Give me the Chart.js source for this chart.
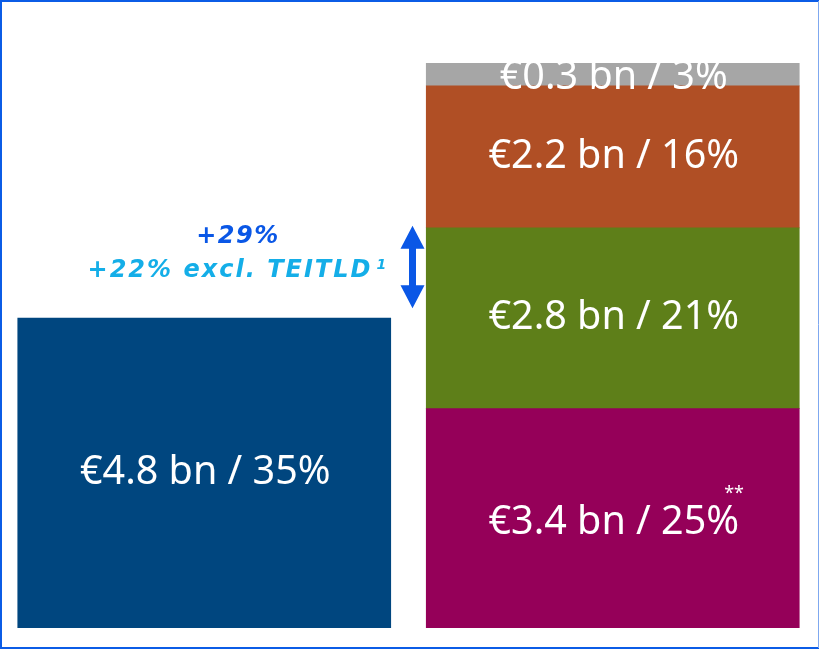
<!DOCTYPE html>
<html>
<head>
<meta charset="utf-8">
<script src="https://cdn.jsdelivr.net/npm/chart.js@4"></script>
<style>
html,body{margin:0;padding:0;background:#fff;}
#wrap{position:relative;width:820px;height:649px;}
canvas{display:block;}
</style>
</head>
<body>
<div id="wrap"><canvas id="c" width="820" height="649"></canvas></div>
<script>
const categories = ["Before", "After"];
const seriesNames = ["Base", "Segment A", "Segment B", "Segment C", "Segment D"];
const baseValues = [4.8, null];
const segA = [null, 3.4];
const segB = [null, 2.8];
const segC = [null, 2.2];
const segD = [null, 0.35];
const barLabels = [
  ["€4.8 bn / 35%", null],
  [null, "€3.4 bn / 25%"],
  [null, "€2.8 bn / 21%"],
  [null, "€2.2 bn / 16%"],
  [null, "€0.3 bn / 3%"]
];
const growthMain = "+29%";
const growthSub = "+22% excl. TEITLD";
const growthNote = "1";
const colors = ["#00467f", "#950059", "#5e7f19", "#b04f25", "#a6a6a6"];

const labelPlugin = {
  id: 'labels',
  afterDatasetsDraw(chart) {
    const ctx = chart.ctx;
    ctx.save();
    ctx.fillStyle = '#ffffff';
    ctx.textAlign = 'center';
    ctx.textBaseline = 'middle';
    ctx.font = '39.5px "Noto Sans", "Open Sans", sans-serif';
    chart.data.datasets.forEach((ds, di) => {
      const meta = chart.getDatasetMeta(di);
      meta.data.forEach((el, i) => {
        const txt = barLabels[di][i];
        if (!txt) return;
        const p = el.getProps(['x', 'y', 'base'], true);
        let cy = (p.y + p.base) / 2;
        if (di === 4) cy += 3;
        if (di === 1) cy += 4;
        ctx.fillText(txt, p.x + 1, cy);
        if (di === 1) {
          const w = ctx.measureText(txt).width;
          ctx.save();
          ctx.font = '18px "Noto Sans", sans-serif';
          ctx.fillText("**", p.x + w / 2 - 4, cy - 28);
          ctx.restore();
        }
      });
    });
    ctx.restore();
  },
  afterDraw(chart) {
    const ctx = chart.ctx;
    const y = chart.scales.y;
    ctx.save();
    // arrow
    const ax = (chart.getDatasetMeta(0).data[0].x + chart.getDatasetMeta(1).data[1].x) / 2 + 4;
    const yBot = y.getPixelForValue(4.8) - 10;
    const yTop = y.getPixelForValue(6.2) - 2;
    ctx.fillStyle = '#0a57e6';
    const hw = 12, hh = 23, sw = 3.5;
    ctx.beginPath();
    ctx.moveTo(ax, yTop);
    ctx.lineTo(ax + hw, yTop + hh);
    ctx.lineTo(ax + sw, yTop + hh);
    ctx.lineTo(ax + sw, yBot - hh);
    ctx.lineTo(ax + hw, yBot - hh);
    ctx.lineTo(ax, yBot);
    ctx.lineTo(ax - hw, yBot - hh);
    ctx.lineTo(ax - sw, yBot - hh);
    ctx.lineTo(ax - sw, yTop + hh);
    ctx.lineTo(ax - hw, yTop + hh);
    ctx.closePath();
    ctx.fill();
    // texts
    const tx = 238;
    const mid = (yTop + yBot) / 2;
    ctx.textAlign = 'center';
    ctx.textBaseline = 'middle';
    ctx.letterSpacing = '1.5px';
    ctx.font = 'italic 700 24px "DejaVu Sans", sans-serif';
    ctx.fillStyle = '#0a57e6';
    ctx.fillText(growthMain, tx, mid - 30);
    ctx.letterSpacing = '2px';
    ctx.font = 'italic 700 24px "DejaVu Sans", sans-serif';
    ctx.fillStyle = '#14aee8';
    const w = ctx.measureText(growthSub).width;
    const sx = 230;
    ctx.fillText(growthSub, sx, mid + 4);
    ctx.letterSpacing = '0px';
    ctx.font = 'italic 600 14px "DejaVu Sans", sans-serif';
    ctx.textAlign = 'left';
    ctx.fillText(growthNote, sx + w / 2 + 4, mid - 2);
    // frame
    ctx.strokeStyle = '#0b5ce6';
    ctx.lineWidth = 2;
    ctx.beginPath();
    ctx.moveTo(819, 1); ctx.lineTo(1, 1); ctx.lineTo(1, 648); ctx.lineTo(819, 648);
    ctx.stroke();
    ctx.strokeStyle = '#7fa8ef';
    ctx.lineWidth = 1;
    ctx.beginPath();
    ctx.moveTo(818.5, 1); ctx.lineTo(818.5, 648);
    ctx.stroke();
    ctx.restore();
  }
};

const allSeries = [baseValues, segA, segB, segC, segD];
new Chart(document.getElementById('c'), {
  type: 'bar',
  data: {
    labels: categories,
    datasets: allSeries.map((d, i) => ({
      label: seriesNames[i],
      data: d,
      backgroundColor: colors[i],
      borderWidth: 0,
      barThickness: 373,
      skipNull: true
    }))
  },
  options: {
    responsive: false,
    animation: false,
    events: [],
    layout: { padding: { left: 0, right: 3, top: 0, bottom: 21 } },
    plugins: { legend: { display: false }, tooltip: { enabled: false } },
    scales: {
      x: { stacked: true, display: false, offset: true, grid: { display: false } },
      y: { stacked: true, display: false, min: 0, max: 9.73, grid: { display: false } }
    }
  },
  plugins: [labelPlugin]
});
</script>
</body>
</html>
